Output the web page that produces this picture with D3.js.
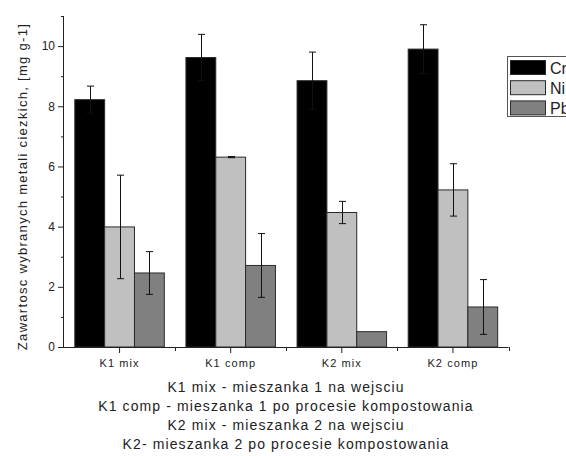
<!DOCTYPE html>
<html><head><meta charset="utf-8">
<script src="https://cdn.jsdelivr.net/npm/d3@7"></script>
<style>body{margin:0;background:#fff}svg{display:block}text{font-family:"Liberation Sans",Arial,sans-serif;fill:#222}</style>
</head><body><svg id="c" width="566" height="456"></svg>
<script>
const categories = ["K1 mix", "K1 comp", "K2 mix", "K2 comp"];
const seriesNames = ["Cr", "Ni", "Pb"];
const crValues = [8.22, 9.62, 8.85, 9.90];
const crErrors = [0.45, 0.77, 0.95, 0.81];
const niValues = [3.99, 6.31, 4.47, 5.22];
const niErrors = [1.72, 0.02, 0.37, 0.87];
const pbValues = [2.46, 2.71, 0.51, 1.33];
const pbErrors = [0.71, 1.06, 0, 0.91];
const yTicks = [0, 2, 4, 6, 8, 10];
const yMinorTicks = [1, 3, 5, 7, 9, 11];
const captionLines = [
  "K1 mix - mieszanka 1 na wejsciu",
  "K1 comp - mieszanka 1 po procesie kompostowania",
  "K2 mix - mieszanka 2 na wejsciu",
  "K2- mieszanka 2 po procesie kompostowania"
];
const colors = ["#000000", "#c0c0c0", "#808080"];

const values = [crValues, niValues, pbValues];
const errors = [crErrors, niErrors, pbErrors];
const svg = d3.select("#c");
const x0 = 64, x1 = 508.5, yTop = 16, yBot = 347;
const x = d3.scaleBand().domain(categories).range([x0, x1]).paddingInner(0).paddingOuter(0);
const xs = d3.scaleBand().domain(seriesNames).range([0, 89.5]);
const groupOffset = (x.bandwidth() - 89.5) / 2;
const y = d3.scaleLinear().domain([0, 11]).range([yBot, yTop]);

// bars
seriesNames.forEach((s, si) => {
  const g = svg.append("g");
  categories.forEach((c, ci) => {
    const bx = x(c) + groupOffset + xs(s);
    g.append("rect").attr("x", bx).attr("y", y(values[si][ci]))
      .attr("width", xs.bandwidth()).attr("height", y(0) - y(values[si][ci]))
      .attr("fill", colors[si]).attr("stroke", "#2a2a2a").attr("stroke-width", 1);
  });
});
// error bars
seriesNames.forEach((s, si) => {
  categories.forEach((c, ci) => {
    const e = errors[si][ci];
    if (!e) return;
    const cx = Math.round(x(c) + groupOffset + xs(s) + xs.bandwidth() / 2) + 0.5;
    const v = values[si][ci];
    const g = svg.append("g").attr("stroke", "#111").attr("stroke-width", 1);
    g.append("line").attr("x1", cx).attr("x2", cx).attr("y1", y(v + e)).attr("y2", y(v - e));
    [v + e, v - e].forEach(t => g.append("line").attr("x1", cx - 3.5).attr("x2", cx + 3.5).attr("y1", y(t)).attr("y2", y(t)));
  });
});

// y axis
const yAxis = d3.axisLeft(y).tickValues(yTicks).tickSize(6).tickPadding(3).tickFormat(d3.format("d"));
const ya = svg.append("g").attr("transform", `translate(${x0},0)`).call(yAxis);
ya.select(".domain").attr("d", `M-0.5,${yTop}V${yBot}`).attr("stroke", "#222");
ya.selectAll(".tick line").attr("stroke", "#222");
ya.selectAll("text").style("font-size", "12px");
const yMinor = d3.axisLeft(y).tickValues(yMinorTicks).tickSize(3).tickFormat("");
const ym = svg.append("g").attr("transform", `translate(${x0},0)`).call(yMinor);
ym.select(".domain").remove();
ym.selectAll(".tick line").attr("stroke", "#222");

// x axis
const xAxis = d3.axisBottom(x).tickSize(6).tickPadding(6);
const xa = svg.append("g").attr("transform", `translate(0,${yBot})`).call(xAxis);
xa.select(".domain").attr("d", `M${x0},0.5H${x1}`).attr("stroke", "#222");
xa.selectAll(".tick line").attr("stroke", "#222");
xa.selectAll("text").style("font-size", "11px").style("letter-spacing", "1.1px");
const bounds = categories.map(c => x(c) + x.bandwidth());
const xm = svg.append("g").attr("transform", `translate(0,${yBot})`);
bounds.forEach(b => xm.append("line").attr("x1", Math.round(b) + 0.5).attr("x2", Math.round(b) + 0.5).attr("y1", 0).attr("y2", 4).attr("stroke", "#222"));

// y label
svg.append("text").attr("transform", `translate(26.5,${(yTop + yBot) / 2 + 5}) rotate(-90)`)
  .attr("text-anchor", "middle").style("font-size", "13px").style("letter-spacing", "1.3px")
  .text("Zawartosc wybranych metali ciezkich, [mg g-1]");

// caption
captionLines.forEach((t, i) => {
  svg.append("text").attr("x", 286).attr("y", 392.3 + i * 19).attr("text-anchor", "middle")
    .style("font-size", "14px").style("letter-spacing", "1.1px").text(t);
});

// legend
const lg = svg.append("g");
lg.append("rect").attr("x", 507.5).attr("y", 56.5).attr("width", 80).attr("height", 60)
  .attr("fill", "#fff").attr("stroke", "#555").attr("stroke-width", 1);
seriesNames.forEach((s, i) => {
  const yy = 60.5 + i * 20.2;
  lg.append("rect").attr("x", 510.5).attr("y", yy).attr("width", 35).attr("height", 14)
    .attr("fill", colors[i]).attr("stroke", "#2a2a2a");
  lg.append("text").attr("x", 550).attr("y", yy + 13).style("font-size", "16px").text(s);
});
</script></body></html>
